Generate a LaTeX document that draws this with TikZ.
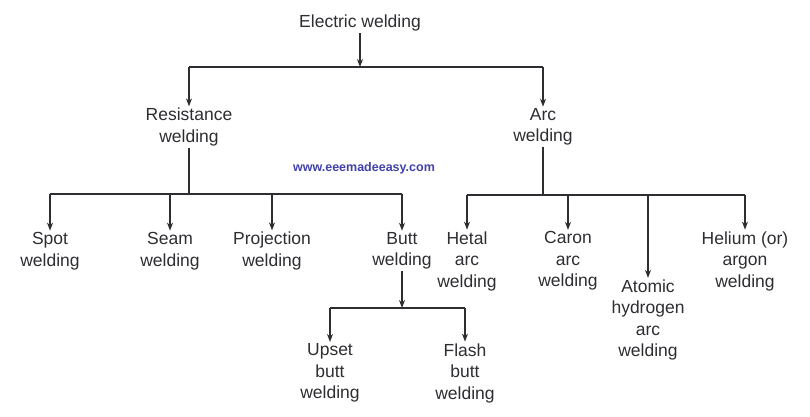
\documentclass[tikz,border=0pt]{standalone}
\usepackage{fontspec}
\setmainfont{Liberation Sans}
\usetikzlibrary{arrows.meta}
\definecolor{txt}{RGB}{45,45,50}
\definecolor{wm}{RGB}{65,65,170}
\begin{document}
\begin{tikzpicture}[x=1pt,y=-1pt,
  lbl/.style={inner sep=1.5pt,align=center,text=txt,font=\fontsize{17.5}{21.5}\selectfont},
  arr/.style={draw=txt,line width=1.3pt,-{Stealth[length=8pt,width=6pt]}},
  ln/.style={draw=txt,line width=1.3pt}]
\useasboundingbox (0,0) rectangle (810,417);
\node[lbl] (ew) at (360,23) {Electric welding};
\node[lbl] (res) at (189,127) {Resistance\\welding};
\node[lbl] (arc) at (543,127) {Arc\\welding};
\node[font=\bfseries\fontsize{12.5}{14}\selectfont,text=wm] (wmk) at (364,168) {www.eeemadeeasy.com};
\node[lbl] (spot) at (50,251) {Spot\\welding};
\node[lbl] (seam) at (170,251) {Seam\\welding};
\node[lbl] (proj) at (272,251) {Projection\\welding};
\node[lbl] (butt) at (402,251) {Butt\\welding};
\node[lbl] (upset) at (330,373) {Upset\\butt\\welding};
\node[lbl] (flash) at (465,373) {Flash\\butt\\welding};
\node[lbl] (metal) at (467,261) {Hetal\\arc\\welding};
\node[lbl] (caron) at (568,261) {Caron\\arc\\welding};
\node[lbl] (atom) at (648,320) {Atomic\\hydrogen\\arc\\welding};
\node[lbl] (hel) at (745,261) {Helium (or)\\argon\\welding};
\coordinate (b1) at (360,67);
\coordinate (b2) at (189,194);
\coordinate (b3) at (543,195);
\coordinate (b4) at (402,308);
% level 1
\draw[arr] (ew) -- (b1);
\draw[ln] (b1 -| res) -- (b1 -| arc);
\draw[arr] (b1 -| res) -- (res);
\draw[arr] (b1 -| arc) -- (arc);
% resistance
\draw[ln] (res) -- (b2);
\draw[ln] (b2 -| spot) -- (b2 -| butt);
\foreach \n in {spot,seam,proj,butt} \draw[arr] (b2 -| \n) -- (\n);
% arc
\draw[ln] (arc) -- (b3);
\draw[ln] (b3 -| metal) -- (b3 -| hel);
\foreach \n in {metal,caron,atom,hel} \draw[arr] (b3 -| \n) -- (\n);
% butt
\draw[arr] (butt) -- (b4);
\draw[ln] (b4 -| upset) -- (b4 -| flash);
\draw[arr] (b4 -| upset) -- (upset);
\draw[arr] (b4 -| flash) -- (flash);
\end{tikzpicture}
\end{document}
